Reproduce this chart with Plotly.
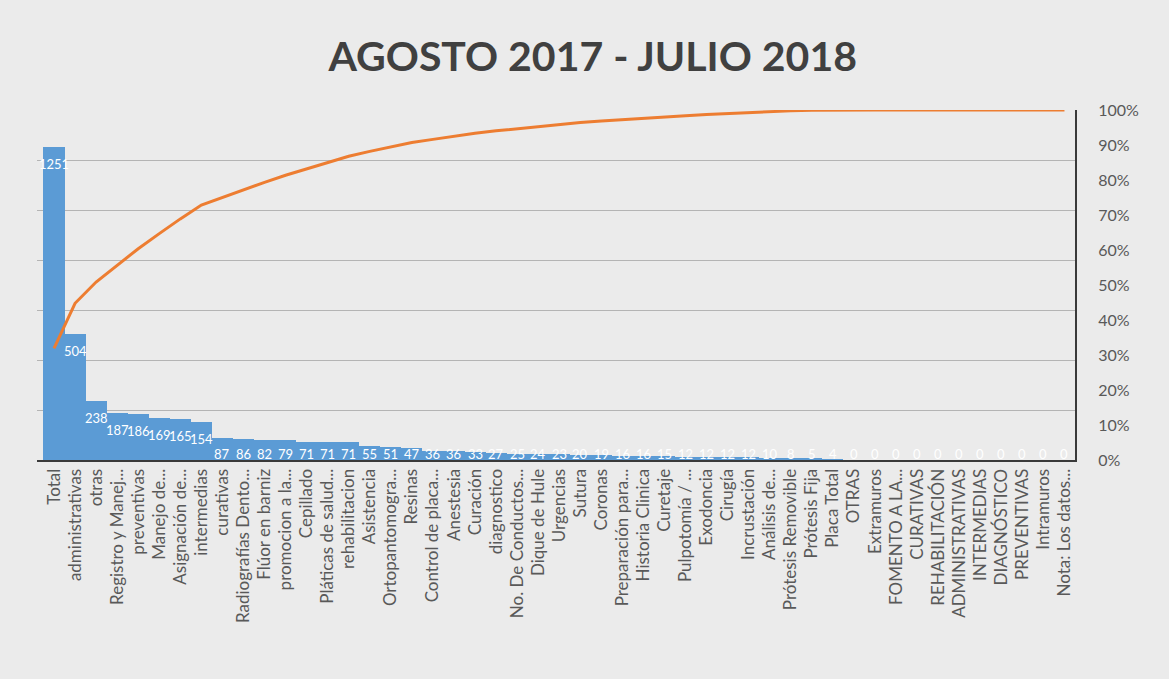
import numpy as np
import plotly.graph_objects as go

# Categorías del diagrama de Pareto (ordenadas de mayor a menor)
categorias = [
    "Total", "administrativas", "otras", "Registro y Manej...", "preventivas",
    "Manejo de...", "Asignación de...", "intermedias", "curativas",
    "Radiografías Dento...", "Flúor en barniz", "promocion a la...", "Cepillado",
    "Pláticas de salud...", "rehabilitacion", "Asistencia", "Ortopantomogra...",
    "Resinas", "Control de placa...", "Anestesia", "Curación", "diagnostico",
    "No. De Conductos...", "Dique de Hule", "Urgencias", "Sutura", "Coronas",
    "Preparación para...", "Historia Clinica", "Curetaje", "Pulpotomía / ...",
    "Exodoncia", "Cirugía", "Incrustación", "Análisis de...",
    "Prótesis Removible", "Prótesis Fija", "Placa Total", "OTRAS", "Extramuros",
    "FOMENTO A LA...", "CURATIVAS", "REHABILITACIÓN", "ADMINISTRATIVAS",
    "INTERMEDIAS", "DIAGNÓSTICO", "PREVENTIVAS", "Intramuros", "Nota: Los datos...",
]

# Número de actividades por categoría
valores = [
    1251, 504, 238, 187, 186, 169, 165, 154, 87, 86, 82, 79, 71, 71, 71, 55,
    51, 47, 36, 36, 33, 27, 25, 24, 23, 20, 19, 16, 16, 15, 12, 12, 12, 12,
    10, 8, 5, 4, 0, 0, 0, 0, 0, 0, 0, 0, 0, 0, 0,
]

# Marcas del eje porcentual
ticks_pct = [0, 0.1, 0.2, 0.3, 0.4, 0.5, 0.6, 0.7, 0.8, 0.9, 1.0]
ticks_pct_texto = ["0%", "10%", "20%", "30%", "40%", "50%", "60%", "70%", "80%", "90%", "100%"]

titulo = "AGOSTO 2017 - JULIO 2018"

v = np.array(valores, dtype=float)
acumulado = np.cumsum(v) / v.sum()

FUENTE = "Lato"
AZUL = "#5b9bd5"
NARANJA = "#ed7d31"
GRIS_TEXTO = "#595959"
FONDO = "#ebebeb"

# Las etiquetas de valor van dentro del extremo de la barra; en las barras
# muy bajas quedan justo encima del eje.
piso_etiqueta = 92

fig = go.Figure()

fig.add_trace(go.Bar(
    x=categorias, y=valores,
    marker=dict(color=AZUL, line=dict(width=0)),
    hoverinfo="x+y",
    showlegend=False,
))

fig.add_trace(go.Scatter(
    x=categorias, y=acumulado,
    yaxis="y2",
    mode="lines",
    line=dict(color=NARANJA, width=3),
    showlegend=False,
))

for cat, val in zip(categorias, valores):
    fig.add_annotation(
        x=cat, y=max(val, piso_etiqueta), xref="x", yref="y",
        text=str(val), showarrow=False,
        yanchor="top", yshift=-7,
        font=dict(family=FUENTE, size=13, color="white"),
    )

fig.update_layout(
    width=1169, height=679,
    paper_bgcolor=FONDO,
    plot_bgcolor=FONDO,
    margin=dict(l=37, r=94, t=110, b=219, autoexpand=False),
    bargap=0,
    title=dict(
        text=f"<b>{titulo}</b>",
        x=0.507, xanchor="center",
        y=0.916, yanchor="middle",
        font=dict(family=FUENTE, size=41, color="#404040"),
    ),
    xaxis=dict(
        type="category",
        tickangle=-90,
        tickfont=dict(family=FUENTE, size=17, color=GRIS_TEXTO),
        showline=True, linecolor="#3a3a3a", linewidth=2,
        showgrid=False, ticks="", automargin=False,
    ),
    yaxis=dict(
        range=[0, 1400],
        tickvals=[200, 400, 600, 800, 1000, 1200],
        showticklabels=False,
        showgrid=True, gridcolor="#b4b4b4", gridwidth=1,
        zeroline=False, showline=False, ticks="", automargin=False,
    ),
    yaxis2=dict(
        overlaying="y", side="right",
        range=[0, 1.0],
        tickvals=ticks_pct, ticktext=ticks_pct_texto,
        tickfont=dict(family=FUENTE, size=16, color=GRIS_TEXTO),
        showgrid=False, zeroline=False,
        showline=True, linecolor="#3a3a3a", linewidth=2,
        ticks="", ticklabelstandoff=18, automargin=False,
    ),
)

fig.write_html("out.html")
